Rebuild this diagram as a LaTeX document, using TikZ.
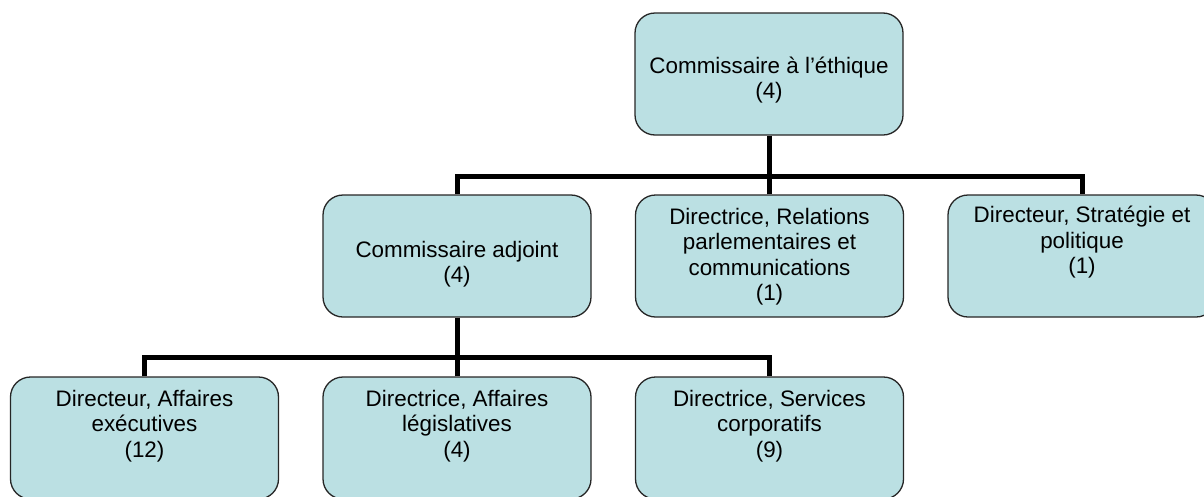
\documentclass[tikz,border=0pt]{standalone}
\usepackage{fontspec}
\setmainfont{Liberation Sans}
\definecolor{boxfill}{RGB}{187,224,227}
\newcommand\firstline{\rule{0pt}{22pt}}
\begin{document}
\begin{tikzpicture}[x=1pt,y=-1pt,
  orgbox/.style={draw=black!85, line width=1.3pt, fill=boxfill, rounded corners=20pt,
    minimum width=268pt, minimum height=122pt, inner sep=0pt},
  boxtext/.style={anchor=north, inner sep=0pt, align=center,
    font=\fontsize{22.4pt}{25.5pt}\selectfont},
  link/.style={line width=5pt, line join=miter}]
\useasboundingbox (0,0) rectangle (1204,496);
\clip (0,0) rectangle (1204,496);
% boxes
\node[orgbox] (ceo)   at (769,74)    {};
\node[orgbox] (adj)   at (457,256)   {};
\node[orgbox] (rel)   at (769.5,256) {};
\node[orgbox] (strat) at (1082,256)  {};
\node[orgbox] (exe)   at (144.5,438) {};
\node[orgbox] (leg)   at (457,438)   {};
\node[orgbox] (srv)   at (769.5,438) {};
% buses
\coordinate (bus1) at (0,176);
\coordinate (bus2) at (0,357);
\draw[link] (ceo.south) -- (ceo.south |- bus1);
\draw[link] (adj.north) |- (strat.north |- bus1) -- (strat.north);
\draw[link] (rel.north) -- (rel.north |- bus1);
\draw[link] (adj.south) -- (adj.south |- bus2);
\draw[link] (exe.north) |- (srv.north |- bus2) -- (srv.north);
\draw[link] (leg.north) -- (leg.north |- bus2);
% texts
\node[boxtext] (ceo-t)   at ([yshift=-38.6pt]ceo.north)   {\firstline Commissaire à l’éthique\\(4)};
\node[boxtext] (adj-t)   at ([yshift=-40.5pt]adj.north)   {\firstline Commissaire adjoint\\(4)};
\node[boxtext] (rel-t)   at ([yshift=-7.5pt]rel.north)    {\firstline Directrice, Relations\\parlementaires et\\communications\\(1)};
\node[boxtext] (strat-t) at ([yshift=-6pt]strat.north)    {\firstline Directeur, Stratégie et\\politique\\(1)};
\node[boxtext] (exe-t)   at ([yshift=-7.5pt]exe.north)    {\firstline Directeur, Affaires\\exécutives\\(12)};
\node[boxtext] (leg-t)   at ([yshift=-7.5pt]leg.north)    {\firstline Directrice, Affaires\\législatives\\(4)};
\node[boxtext] (srv-t)   at ([yshift=-7.5pt]srv.north)    {\firstline Directrice, Services\\corporatifs\\(9)};
\end{tikzpicture}
\end{document}
